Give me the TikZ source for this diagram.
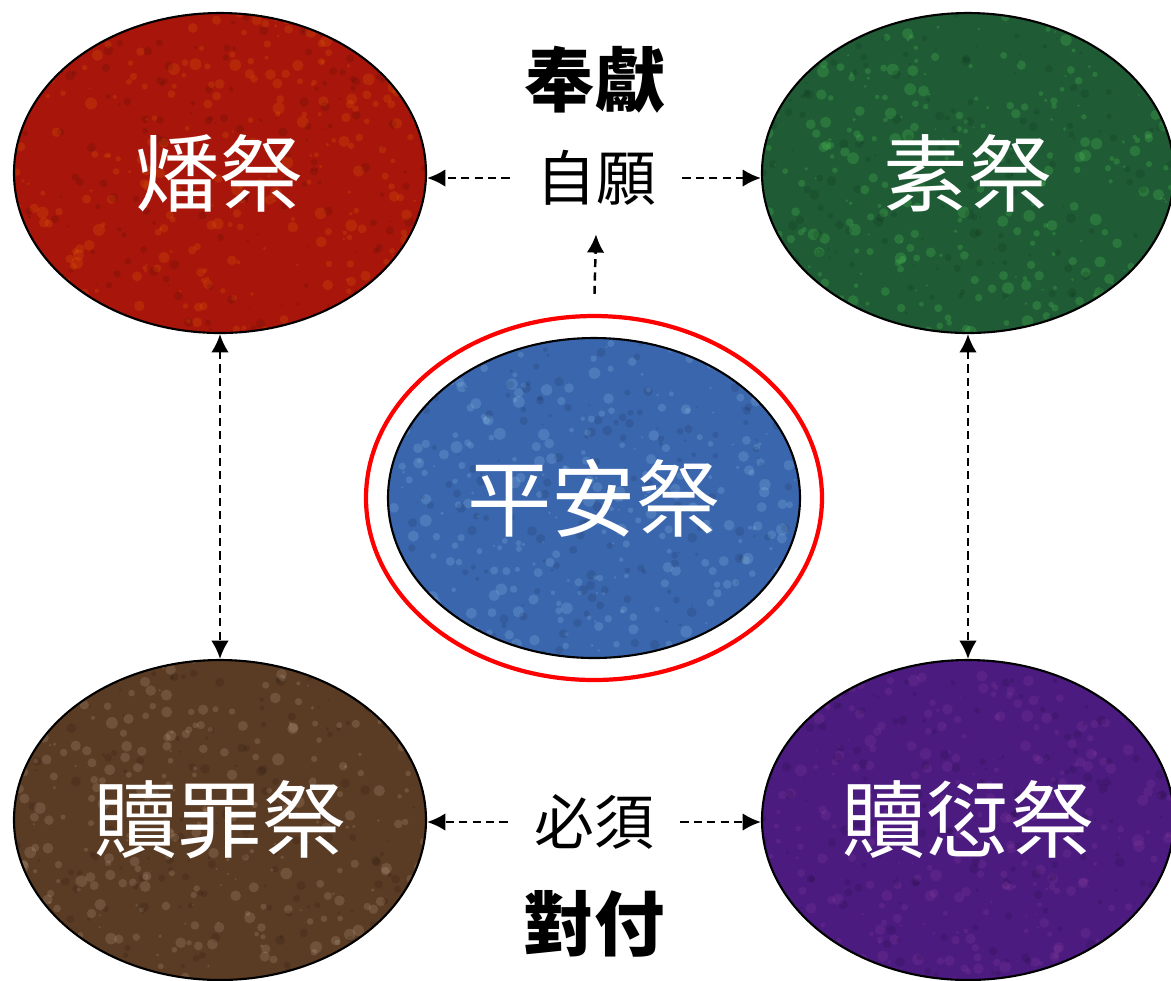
\documentclass[tikz,border=0pt]{standalone}
\usepackage{fontspec}
\setmainfont{Noto Sans CJK TC}
\usetikzlibrary{shapes.geometric,arrows.meta,positioning,calc}

\definecolor{burntred}{HTML}{A8160B}
\definecolor{graingreen}{HTML}{1F5C35}
\definecolor{sinbrown}{HTML}{5A3B24}
\definecolor{guiltpurple}{HTML}{4B1B80}
\definecolor{peaceblue}{HTML}{3A66AE}

\begin{document}
\begin{tikzpicture}[
    sacrifice/.style={ellipse, draw=black, line width=0.6pt, minimum width=4.12cm, minimum height=3.2cm, inner sep=0pt, text=white, font=\fontsize{24}{24}\selectfont,
        path picture={
            \foreach \i in {1,...,320}
                \fill [#1, opacity=0.16] ($(path picture bounding box.center)+(rand*2.1,rand*1.65)$) circle ({0.01+0.05*rnd});
            \foreach \i in {1,...,200}
                \fill [black, opacity=0.10] ($(path picture bounding box.center)+(rand*2.1,rand*1.65)$) circle ({0.01+0.04*rnd});
        }},
    ring/.style={ellipse, draw=red, line width=1.2pt, minimum width=4.56cm, minimum height=3.64cm},
    word/.style={inner sep=0.26cm, font=\fontsize{17}{17}\selectfont},
    headword/.style={inner sep=0pt, font=\fontsize{20}{20}\selectfont\bfseries},
    arrow/.style={-{Latex[length=5.2pt,width=5pt]}, dash pattern=on 2.3pt off 1.5pt, line width=0.7pt},
    twoway/.style={{Latex[length=5.2pt,width=5pt]}-{Latex[length=5.2pt,width=5pt]}, dash pattern=on 2.3pt off 1.5pt, line width=0.7pt}
]
\useasboundingbox (0,0) rectangle (11.71,-9.8);
\pgfmathsetseed{7}

% Offerings
\node [sacrifice=orange, fill=burntred] (burnt) at (2.20,-1.73) {燔祭};
\node [sacrifice=green!60!white, fill=graingreen] (grain) at (9.68,-1.73) {素祭};
\node [sacrifice=brown!40!white, fill=sinbrown] (sin) at (2.20,-8.20) {贖罪祭};
\node [sacrifice=violet!70!white, fill=guiltpurple] (guilt) at (9.68,-8.20) {贖愆祭};
\node [sacrifice=cyan!30!white, fill=peaceblue] (peace) at (5.94,-4.98) {平安祭};
\node [ring] (peacering) at (peace) {};

% Labels
\node [word] (willing) at (5.96,-1.78) {自願};
\node [headword] (offer) at (5.95,-0.80) {奉獻};
\node [word] (must) at (5.94,-8.22) {必須};
\node [headword] (deal) at (5.94,-9.24) {對付};

% Arrows
\draw [arrow] (willing.west) -- (willing.west -| burnt.east);
\draw [arrow] (willing.east) -- (willing.east -| grain.west);
\draw [arrow, shorten <=0.2cm] (peacering.north) -- ($(willing.south)+(0,-0.02)$);
\draw [arrow] (must.west) -- (must.west -| sin.east);
\draw [arrow] (must.east) -- (must.east -| guilt.west);
\draw [twoway] (burnt.south) -- (sin.north);
\draw [twoway] (grain.south) -- (guilt.north);

\end{tikzpicture}
\end{document}
